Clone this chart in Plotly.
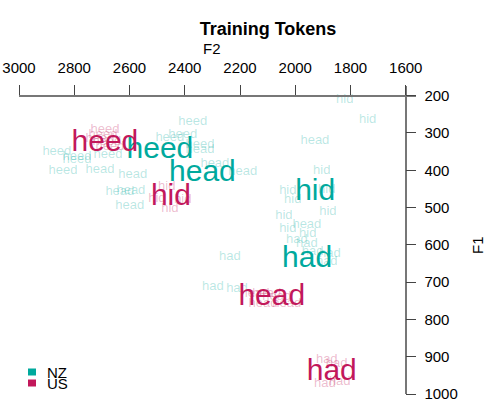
import plotly.graph_objects as go

# ---------------- data ----------------
# NZ individual tokens (F2, F1)
nz_words = ["heed"] * 9 + ["head"] * 10 + ["hid"] * 10 + ["had"] * 8
nz_f2 = [2371, 2407, 2454, 2345, 2863, 2790, 2790, 2841, 2678,
         2707, 2588, 2345, 2291, 2190, 2635, 2595, 2599, 1929, 1958,
         1821, 1738, 1904, 1886, 2027, 2009, 1882, 2041, 2027, 1955,
         2237, 2298, 2211, 1994, 1958, 1937, 1875, 1886]
nz_f1 = [270, 305, 313, 332, 350, 364, 372, 401, 359,
         399, 412, 345, 383, 404, 458, 455, 495, 321, 546,
         211, 265, 401, 452, 455, 479, 511, 522, 557, 570,
         632, 712, 717, 586, 597, 618, 624, 645]

# US individual tokens (F2, F1)
us_words = ["heed"] * 5 + ["hid"] * 4 + ["head"] * 5 + ["had"] * 4
us_f2 = [2689, 2696, 2707, 2682, 2671,
         2465, 2501, 2407, 2454,
         2103, 2067, 2117, 2031, 2146,
         1886, 1850, 1893, 1839]
us_f1 = [292, 305, 316, 324, 337,
         444, 476, 479, 503,
         731, 739, 758, 758, 731,
         908, 918, 972, 967]

# Means
vowels = ["heed", "hid", "head", "had"]
nz_mean_f2 = [2490, 1928, 2336, 1957]
nz_mean_f1 = [347, 460, 409, 639]
us_mean_f2 = [2689, 2450, 2085, 1868]
us_mean_f1 = [327, 474, 741, 942]

dialects = ["NZ", "US"]
x_ticks = [3000, 2800, 2600, 2400, 2200, 2000, 1800, 1600]
y_ticks = [200, 300, 400, 500, 600, 700, 800, 900, 1000]

# ---------------- style ----------------
TEAL = "#00A99D"
CRIMSON = "#C2185B"
TEAL_L = "rgba(0,169,157,0.28)"
CRIMSON_L = "rgba(194,24,91,0.30)"
FONT = "Liberation Sans, Arial, Helvetica, sans-serif"

W, H = 502, 414
ML, MR, MT, MB = 19, 86, 86, 20
PW = W - ML - MR
PH = H - MT - MB


def px2x(px):
    return (px - ML) / PW


def py2y(py):
    return (H - MB - py) / PH


fig = go.Figure()

fig.add_trace(go.Scatter(x=nz_f2, y=nz_f1, text=nz_words, mode="text",
                         textfont=dict(color=TEAL_L, size=13, family=FONT),
                         textposition="middle center", showlegend=False, hoverinfo="skip",
                         cliponaxis=False))
fig.add_trace(go.Scatter(x=us_f2, y=us_f1, text=us_words, mode="text",
                         textfont=dict(color=CRIMSON_L, size=13, family=FONT),
                         textposition="middle center", showlegend=False, hoverinfo="skip",
                         cliponaxis=False))
fig.add_trace(go.Scatter(x=nz_mean_f2, y=nz_mean_f1, text=vowels, mode="text",
                         textfont=dict(color=TEAL, size=30, family=FONT),
                         textposition="middle center", showlegend=False, hoverinfo="skip",
                         cliponaxis=False))
fig.add_trace(go.Scatter(x=us_mean_f2, y=us_mean_f1, text=vowels, mode="text",
                         textfont=dict(color=CRIMSON, size=30, family=FONT),
                         textposition="middle center", showlegend=False, hoverinfo="skip",
                         cliponaxis=False))

AX = "#777777"
fig.update_xaxes(range=[3000, 1563], side="top", anchor="free", position=py2y(95.7),
                 automargin=False, ticklabelstandoff=6,
                 tickvals=x_ticks, ticktext=[str(v) for v in x_ticks],
                 ticks="outside", ticklen=10, tickcolor="#444", tickwidth=1,
                 showline=True, linecolor=AX, linewidth=1.5,
                 showgrid=False, zeroline=False,
                 tickfont=dict(size=15, color="black", family=FONT))
fig.update_yaxes(range=[1000, 174], side="right", anchor="free", position=px2x(405.7),
                 automargin=False, ticklabelstandoff=5,
                 tickvals=y_ticks, ticktext=[str(v) for v in y_ticks],
                 ticks="outside", ticklen=10, tickcolor="#444", tickwidth=1,
                 showline=True, linecolor=AX, linewidth=1.5,
                 showgrid=False, zeroline=False,
                 tickfont=dict(size=15, color="black", family=FONT))

annotations = [
    dict(text="F2", x=px2x(212), y=py2y(48), xref="paper", yref="paper",
         showarrow=False, font=dict(size=15, color="black", family=FONT),
         xanchor="center", yanchor="middle"),
    dict(text="F1", x=px2x(478), y=py2y(245), xref="paper", yref="paper",
         showarrow=False, font=dict(size=15, color="black", family=FONT),
         textangle=-90, xanchor="center", yanchor="middle"),
]
legend_colors = [TEAL, CRIMSON]
legend_cy = [372, 383]
shapes = []
for name, col, cy in zip(dialects, legend_colors, legend_cy):
    shapes.append(dict(type="rect", xref="paper", yref="paper",
                       x0=px2x(28), x1=px2x(36), y0=py2y(cy - 3.5), y1=py2y(cy + 3.5),
                       fillcolor=col, line=dict(width=0)))
    annotations.append(dict(text=name, x=px2x(45), y=py2y(cy), xref="paper", yref="paper",
                            showarrow=False, font=dict(size=15, color="black", family=FONT),
                            xanchor="left", yanchor="middle"))

fig.update_layout(
    width=W, height=H,
    margin=dict(l=ML, r=MR, t=MT, b=MB, autoexpand=False),
    paper_bgcolor="white", plot_bgcolor="white",
    title=dict(text="<b>Training Tokens</b>", x=268 / W, y=1 - 29 / H,
               xanchor="center", yanchor="middle",
               font=dict(size=18, color="black", family=FONT)),
    annotations=annotations, shapes=shapes,
    showlegend=False,
)

fig.write_html("out.html", config={"displayModeBar": False},
               post_script="document.body.style.margin='0';document.body.style.overflow='hidden';")
